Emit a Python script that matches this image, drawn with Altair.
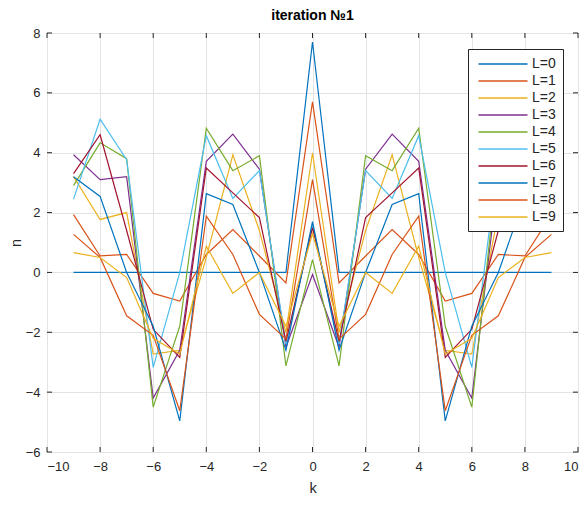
import altair as alt
import pandas as pd

k = [-9, -8, -7, -6, -5, -4, -3, -2, -1, 0, 1, 2, 3, 4, 5, 6, 7, 8, 9]

L0 = [0, 0, 0, 0, 0, 0, 0, 0, 0, 7.7, 0, 0, 0, 0, 0, 0, 0, 0, 0]
L1 = [1.93, 0.55, 0.6, -0.7, -0.96, 0.6, 1.43, 0.55, -0.35, 5.7, -0.35, 0.55, 1.43, 0.6, -0.96, -0.7, 0.6, 0.55, 1.93]
L2 = [3.2, 1.77, 2.0, -2.73, -2.6, 0.5, 3.93, 1.4, -2.0, 4.0, -2.0, 1.4, 3.93, 0.5, -2.6, -2.73, 2.0, 1.77, 3.2]
L3 = [3.93, 3.1, 3.2, -4.2, -2.6, 3.71, 4.62, 3.45, -2.5, -0.07, -2.5, 3.45, 4.62, 3.71, -2.6, -4.2, 3.2, 3.1, 3.93]
L4 = [2.9, 4.33, 3.8, -4.5, -1.8, 4.82, 3.4, 3.9, -3.12, 0.43, -3.12, 3.9, 3.4, 4.82, -1.8, -4.5, 3.8, 4.33, 2.9]
L5 = [2.45, 5.12, 3.77, -3.17, 0.0, 4.57, 2.47, 3.4, -2.4, 1.6, -2.4, 3.4, 2.47, 4.57, 0.0, -3.17, 3.77, 5.12, 2.45]
L6 = [3.3, 4.6, 1.4, -1.9, -2.84, 3.49, 2.66, 1.83, -2.3, 1.5, -2.3, 1.83, 2.66, 3.49, -2.84, -1.9, 1.4, 4.6, 3.3]
L7 = [3.2, 2.54, 0.0, -1.8, -4.96, 2.63, 2.27, 0.0, -2.6, 1.7, -2.6, 0.0, 2.27, 2.63, -4.96, -1.8, 0.0, 2.54, 3.2]
L8 = [1.27, 0.5, -1.45, -2.1, -4.62, 1.88, 0.6, -1.4, -2.23, 3.1, -2.23, -1.4, 0.6, 1.88, -4.62, -2.1, -1.45, 0.5, 1.27]
L9 = [0.66, 0.5, -0.17, -2.2, -2.73, 0.88, -0.7, 0.0, -1.8, 1.3, -1.8, 0.0, -0.7, 0.88, -2.73, -2.2, -0.17, 0.5, 0.66]

names = ["L=0", "L=1", "L=2", "L=3", "L=4", "L=5", "L=6", "L=7", "L=8", "L=9"]
colors = ["#0072BD", "#D95319", "#EDB120", "#7E2F8E", "#77AC30",
          "#4DBEEE", "#A2142F", "#0072BD", "#D95319", "#EDB120"]
x_ticks = [-10, -8, -6, -4, -2, 0, 2, 4, 6, 8, 10]
y_ticks = [-6, -4, -2, 0, 2, 4, 6, 8]

series = [L0, L1, L2, L3, L4, L5, L6, L7, L8, L9]
rows = []
for name, vals in zip(names, series):
    for kk, v in zip(k, vals):
        rows.append({"k": kk, "n": v, "L": name})
df = pd.DataFrame(rows)

W, H = 531, 419
FONT = "Liberation Sans"
AXC = "#262626"
xs = alt.Scale(domain=[-10, 10], nice=False, zero=False)
ys = alt.Scale(domain=[-6, 8], nice=False, zero=False)

x_axis = alt.Axis(
    values=x_ticks, title="k", grid=True, tickSize=0, domain=False,
    labelPadding=8, titlePadding=8, labelFontSize=13, titleFontSize=14.5,
    titleFontWeight="normal", labelColor=AXC, titleColor=AXC,
    labelFont=FONT, titleFont=FONT, gridColor="#e3e3e3")
y_axis = alt.Axis(
    values=y_ticks, title="n", grid=True, tickSize=0, domain=False,
    labelPadding=7, titlePadding=2, labelFontSize=13, titleFontSize=14.5,
    titleFontWeight="normal", labelColor=AXC, titleColor=AXC,
    labelFont=FONT, titleFont=FONT, gridColor="#e3e3e3")

lines = alt.Chart(df).mark_line(strokeWidth=1.2, clip=True).encode(
    x=alt.X("k:Q", scale=xs, axis=x_axis),
    y=alt.Y("n:Q", scale=ys, axis=y_axis),
    color=alt.Color("L:N", scale=alt.Scale(domain=names, range=colors),
                    sort=names,
                    legend=alt.Legend(
                        title=None, orient="none", legendX=421, legendY=16,
                        symbolType="M-3.5,0L3.5,0", symbolSize=196,
                        symbolStrokeWidth=1.5,
                        symbolOffset=20, labelOffset=21, labelFontSize=14,
                        labelFont=FONT, labelColor=AXC, rowPadding=2,
                        padding=7, strokeColor=AXC, fillColor="white",
                        cornerRadius=0)),
    order=alt.Order("k:Q"),
)

xt = pd.DataFrame({"k": x_ticks})
yt = pd.DataFrame({"n": y_ticks})
tick_bottom = alt.Chart(xt).mark_rule(color=AXC, strokeWidth=1).encode(
    x=alt.X("k:Q", scale=xs, axis=x_axis), y=alt.value(H), y2=alt.value(H - 5))
tick_top = alt.Chart(xt).mark_rule(color=AXC, strokeWidth=1).encode(
    x=alt.X("k:Q", scale=xs, axis=x_axis), y=alt.value(0), y2=alt.value(5))
tick_left = alt.Chart(yt).mark_rule(color=AXC, strokeWidth=1).encode(
    y=alt.Y("n:Q", scale=ys, axis=y_axis), x=alt.value(0), x2=alt.value(5))
tick_right = alt.Chart(yt).mark_rule(color=AXC, strokeWidth=1).encode(
    y=alt.Y("n:Q", scale=ys, axis=y_axis), x=alt.value(W), x2=alt.value(W - 5))

chart = alt.layer(lines, tick_bottom, tick_top, tick_left, tick_right).properties(
    width=W, height=H,
    background="white",
    title=alt.TitleParams("iteration №1", fontSize=14, fontWeight="bold",
                          font=FONT, color="#000000", anchor="middle", offset=4),
    autosize=alt.AutoSizeParams(type="none"),
    padding={"left": 39, "top": 25, "right": 2, "bottom": 44},
).configure_view(stroke=AXC, strokeWidth=1)

chart.save("out.html", embed_options={"renderer": "svg", "actions": False})
